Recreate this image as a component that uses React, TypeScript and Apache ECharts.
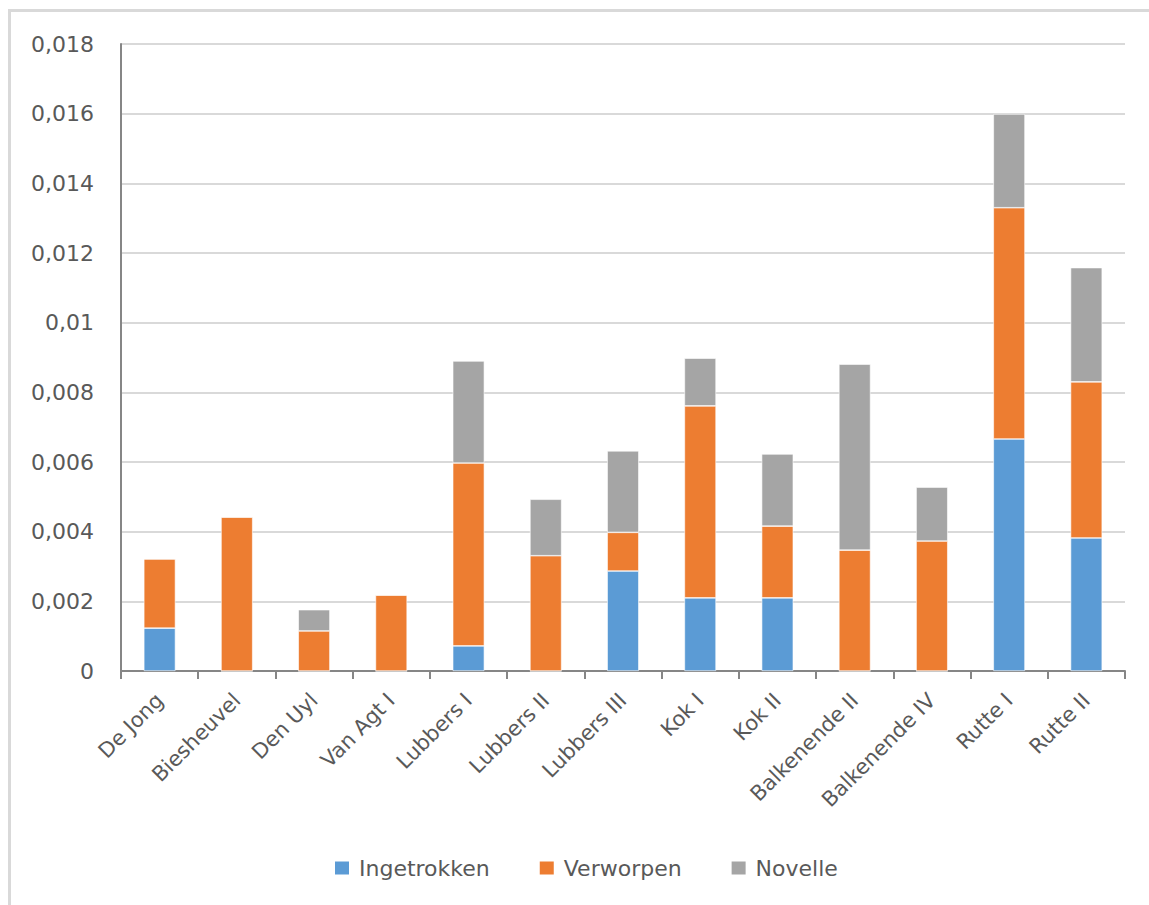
import React, { useEffect, useRef } from "react";
import * as echarts from "echarts";

const categories = [
  "De Jong", "Biesheuvel", "Den Uyl", "Van Agt I", "Lubbers I", "Lubbers II",
  "Lubbers III", "Kok I", "Kok II", "Balkenende II", "Balkenende IV", "Rutte I", "Rutte II",
];
const ingetrokken = [0.00123, 0, 0, 0, 0.00072, 0, 0.00287, 0.0021, 0.0021, 0, 0, 0.00666, 0.00382];
const verworpen = [0.00199, 0.00442, 0.00115, 0.00218, 0.00525, 0.00331, 0.00111, 0.00551, 0.00206, 0.00347, 0.00373, 0.00664, 0.00448];
const novelle = [0, 0, 0.00061, 0, 0.00293, 0.00162, 0.00234, 0.00137, 0.00207, 0.00534, 0.00155, 0.00269, 0.00328];
const seriesNames = ["Ingetrokken", "Verworpen", "Novelle"];
const colors = ["#5b9bd5", "#ed7d31", "#a5a5a5"];

const FONT = "'DejaVu Sans', 'Open Sans', sans-serif";

export default function App() {
  const ref = useRef<HTMLDivElement>(null);
  useEffect(() => {
    if (!ref.current) return;
    const chart = echarts.init(ref.current, null, { renderer: "svg" });
    const data = [ingetrokken, verworpen, novelle];
    chart.setOption({
      animation: false,
      backgroundColor: "#ffffff",
      color: colors,
      graphic: [
        {
          type: "rect",
          shape: { x: 9.5, y: 10.5, width: 1300, height: 1100 },
          style: { fill: "none", stroke: "#d9d9d9", lineWidth: 3 },
          silent: true,
        },
      ],
      grid: { left: 121, right: 24, top: 44, bottom: 234, containLabel: false },
      legend: {
        left: 328,
        top: 852,
        itemWidth: 16,
        itemHeight: 15,
        itemGap: 48,
        icon: "rect",
        textStyle: { fontFamily: FONT, fontSize: 22, color: "#595959", padding: [0, 0, 0, 4] },
        data: seriesNames,
      },
      xAxis: {
        type: "category",
        data: categories,
        axisLine: { show: true, lineStyle: { color: "#868686", width: 2 } },
        axisTick: { show: true, length: 8, lineStyle: { color: "#868686", width: 2 } },
        axisLabel: {
          rotate: 45,
          interval: 0,
          margin: 26,
          fontFamily: FONT,
          fontSize: 21,
          color: "#595959",
        },
      },
      yAxis: {
        type: "value",
        min: 0,
        max: 0.018,
        interval: 0.002,
        axisLine: { show: true, lineStyle: { color: "#868686", width: 2 } },
        axisTick: { show: false },
        splitLine: { show: true, lineStyle: { color: "#d9d9d9", width: 2 } },
        axisLabel: {
          margin: 27,
          fontFamily: FONT,
          fontSize: 22,
          color: "#595959",
          formatter: (v: number) => String(Number(v.toFixed(4))).replace(".", ","),
        },
      },
      series: seriesNames.map((name, i) => ({
        name,
        type: "bar",
        stack: "total",
        barWidth: "41%",
        itemStyle: { color: colors[i], borderColor: "#ffffff", borderWidth: 0.6 },
        data: data[i],
      })),
    });
    return () => chart.dispose();
  }, []);
  return (
    <div
      ref={ref}
      style={{ position: "absolute", left: 0, top: 0, width: 1149, height: 905 }}
    />
  );
}
